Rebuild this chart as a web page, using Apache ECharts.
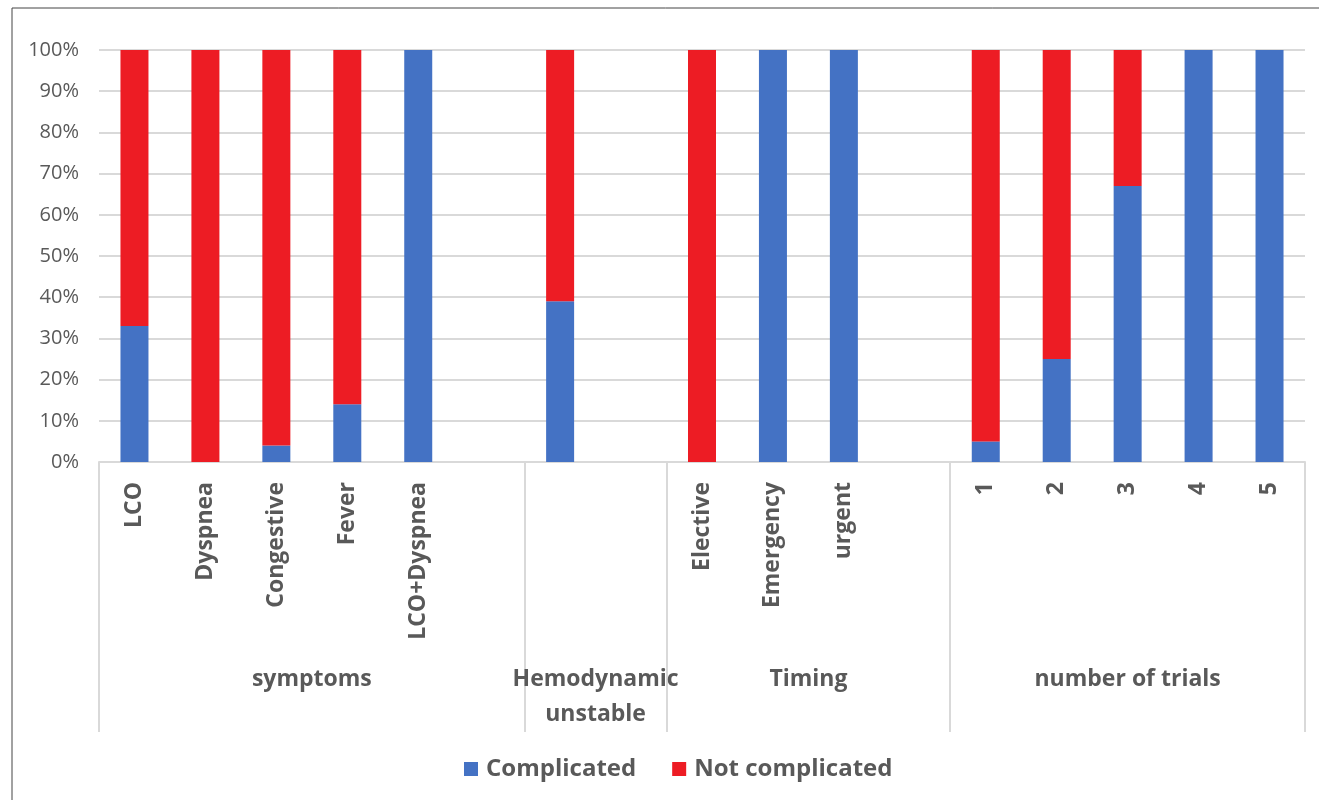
<!DOCTYPE html>
<html>
<head>
<meta charset="utf-8">
<script src="https://cdn.jsdelivr.net/npm/echarts@6/dist/echarts.min.js"></script>
<style>
  html, body { margin: 0; padding: 0; background: #fff; }
  #main { width: 1319px; height: 800px; }
</style>
</head>
<body>
<div id="main"></div>
<script>
// categories (blank slots separate the groups, as in the original chart)
const categories = ['LCO', 'Dyspnea', 'Congestive', 'Fever', 'LCO+Dyspnea', ' ',
  '  ', '   ',
  'Elective', 'Emergency', 'urgent', '    ',
  '1', '2', '3', '4', '5'];
// groups: label, first slot, slot count
const groupNames = ['symptoms', 'Hemodynamic\nunstable', 'Timing', 'number of trials'];
const groupStart = [0, 6, 8, 12];
const groupSize = [6, 2, 4, 5];

const complicated =    [33, 0, 4, 14, 100, null, 39, null, 0, 100, 100, null, 5, 25, 67, 100, 100];
const notComplicated = [67, 100, 96, 86, 0, null, 61, null, 100, 0, 0, null, 95, 75, 33, 0, 0];

const yTicks = [0, 10, 20, 30, 40, 50, 60, 70, 80, 90, 100];

const textColor = '#595959';
const gridColor = '#d9d9d9';
const font = 'Open Sans';

const chart = echarts.init(document.getElementById('main'));
chart.setOption({
  animation: false,
  backgroundColor: '#fff',
  grid: { left: 99, right: 14, top: 50, bottom: 338 },
  legend: {
    bottom: 14,
    left: 459,
    icon: 'rect',
    itemWidth: 14,
    itemHeight: 14,
    itemGap: 36,
    textStyle: { color: textColor, fontSize: 24, fontWeight: 'bold', fontFamily: font, padding: [0, 0, 0, 3] }
  },
  xAxis: {
    type: 'category',
    data: categories,
    axisLine: { lineStyle: { color: gridColor, width: 2 } },
    axisTick: { show: false },
    axisLabel: {
      interval: 0,
      rotate: 90,
      margin: 20,
      color: textColor,
      fontSize: 23,
      fontWeight: 'bold',
      fontFamily: font
    }
  },
  yAxis: {
    type: 'value',
    min: yTicks[0],
    max: yTicks[yTicks.length - 1],
    interval: 10,
    axisLine: { show: false },
    axisTick: { show: false },
    splitLine: { lineStyle: { color: gridColor, width: 2 } },
    axisLabel: {
      formatter: '{value}%',
      margin: 20,
      color: textColor,
      fontSize: 20,
      fontFamily: font
    }
  },
  series: [
    {
      name: 'Complicated',
      type: 'bar',
      stack: 'all',
      barWidth: 28,
      itemStyle: { color: '#4472C4' },
      data: complicated
    },
    {
      name: 'Not complicated',
      type: 'bar',
      stack: 'all',
      barWidth: 28,
      itemStyle: { color: '#ED1C24' },
      data: notComplicated
    }
  ]
});

// group separators and group labels, placed from the category scale
function drawGroups() {
  const c0 = chart.convertToPixel({ xAxisIndex: 0 }, 0);
  const c1 = chart.convertToPixel({ xAxisIndex: 0 }, 1);
  const bw = c1 - c0;
  const left = c0 - bw / 2;
  const axisY = chart.convertToPixel({ yAxisIndex: 0 }, 0);
  const elements = [];
  const bounds = groupStart.concat([categories.length]);
  bounds.forEach(function (k) {
    const x = Math.round(left + k * bw);
    elements.push({
      type: 'line',
      shape: { x1: x, y1: axisY, x2: x, y2: axisY + 270 },
      style: { stroke: gridColor, lineWidth: 2 }
    });
  });
  groupNames.forEach(function (name, i) {
    const cx = left + (groupStart[i] + groupSize[i] / 2) * bw;
    elements.push({
      type: 'text',
      x: cx,
      y: axisY + 200,
      style: {
        text: name,
        align: 'center',
        verticalAlign: 'top',
        fill: textColor,
        fontSize: 23,
        fontWeight: 'bold',
        fontFamily: font,
        lineHeight: 35
      }
    });
  });
  // outer frame edges of the figure
  elements.push({
    type: 'line',
    shape: { x1: 12, y1: 8, x2: 1319, y2: 8 },
    style: { stroke: '#444', lineWidth: 1 }
  });
  elements.push({
    type: 'line',
    shape: { x1: 12, y1: 8, x2: 12, y2: 800 },
    style: { stroke: '#444', lineWidth: 1 }
  });
  chart.setOption({ graphic: { elements: elements } });
}
drawGroups();
</script>
</body>
</html>
